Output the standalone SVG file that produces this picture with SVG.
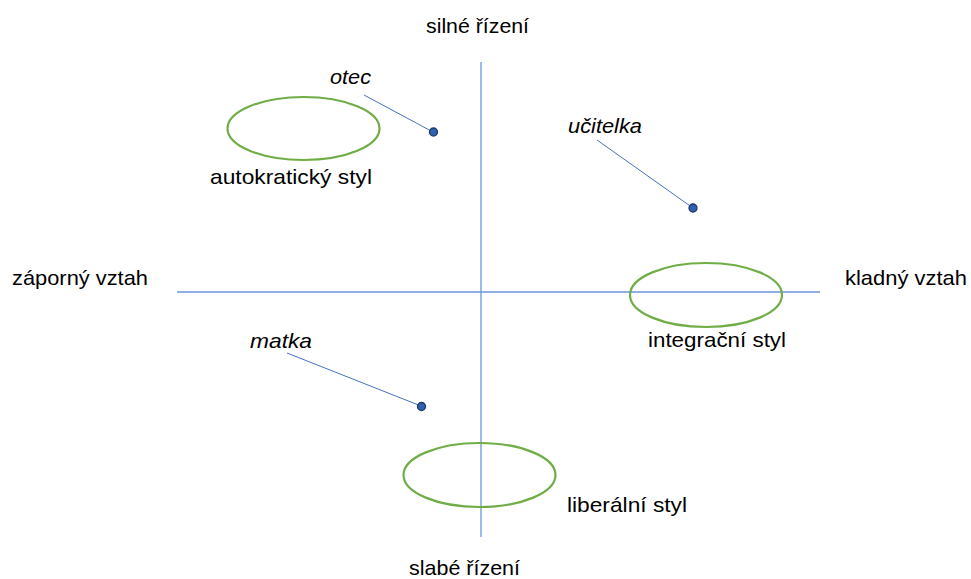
<svg xmlns="http://www.w3.org/2000/svg" width="971" height="579" viewBox="0 0 971 579">
<style>
.t{font-family:"Liberation Sans",Arial,sans-serif;font-size:21px;fill:#000}
.i{font-style:italic}
.ax{stroke:#6A93DB;stroke-width:1.3;fill:none}
.ln{stroke:#4472C4;stroke-width:1;fill:none}
.el{fill:none;stroke:#70AD47;stroke-width:2.2}
.dot{fill:#3060B0;stroke:#1F3864;stroke-width:1.3}
</style>
<rect width="971" height="579" fill="#fff"/>
<g id="connectors">
<line class="ax" x1="481" y1="62" x2="481" y2="537"/>
<line class="ax" x1="177" y1="292" x2="820" y2="292"/>
<line class="ln" x1="364" y1="95" x2="433" y2="132"/>
<line class="ln" x1="597" y1="140" x2="693" y2="208"/>
<line class="ln" x1="287" y1="353" x2="421" y2="406"/>
</g>
<g id="axis-labels">
<text class="t" x="426" y="33" textLength="103" lengthAdjust="spacingAndGlyphs">silné řízení</text>
<text class="t" x="409" y="575" textLength="111" lengthAdjust="spacingAndGlyphs">slabé řízení</text>
<text class="t" x="12" y="285" textLength="136" lengthAdjust="spacingAndGlyphs">záporný vztah</text>
<text class="t" x="845" y="285" textLength="122" lengthAdjust="spacingAndGlyphs">kladný vztah</text>
</g>
<g id="autokraticky">
<ellipse class="el" cx="303.5" cy="128.5" rx="76" ry="31.5"/>
<text class="t" x="210" y="184" textLength="162" lengthAdjust="spacingAndGlyphs">autokratický styl</text>
</g>
<g id="integracni">
<ellipse class="el" cx="706" cy="295" rx="76" ry="32"/>
<text class="t" x="648" y="347" textLength="138" lengthAdjust="spacingAndGlyphs">integrační styl</text>
</g>
<g id="liberalni">
<ellipse class="el" cx="479.5" cy="475" rx="76" ry="32"/>
<text class="t" x="567" y="512" textLength="120" lengthAdjust="spacingAndGlyphs">liberální styl</text>
</g>
<g id="otec">
<text class="t i" x="330" y="84" textLength="41" lengthAdjust="spacingAndGlyphs">otec</text>
<circle class="dot" cx="433.5" cy="132" r="4"/>
</g>
<g id="ucitelka">
<text class="t i" x="568" y="133" textLength="74" lengthAdjust="spacingAndGlyphs">učitelka</text>
<circle class="dot" cx="693" cy="208" r="4"/>
</g>
<g id="matka">
<text class="t i" x="250" y="348" textLength="62" lengthAdjust="spacingAndGlyphs">matka</text>
<circle class="dot" cx="421.5" cy="406.5" r="4"/>
</g>
</svg>
